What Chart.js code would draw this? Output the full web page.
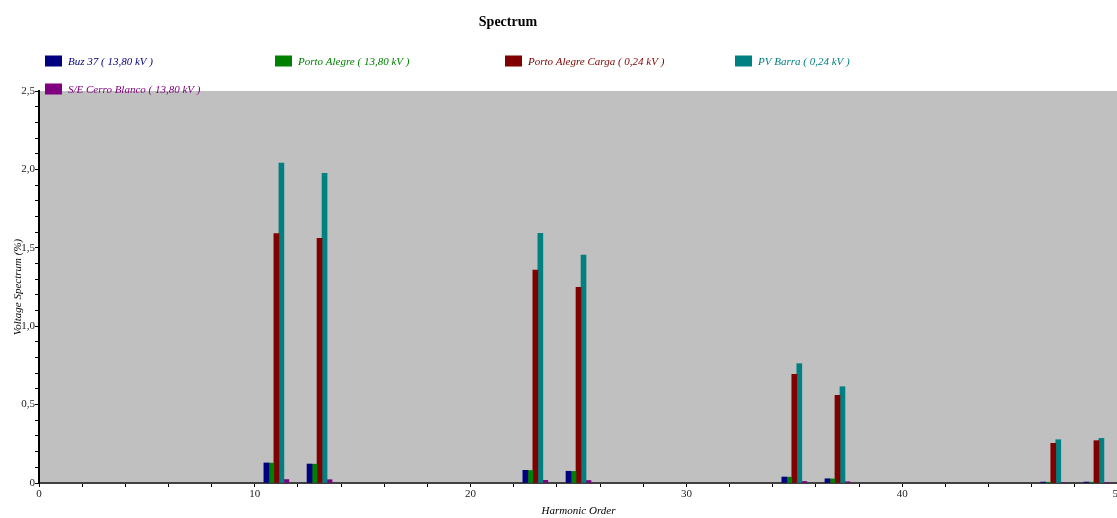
<!DOCTYPE html>
<html>
<head>
<meta charset="utf-8">
<script src="https://cdn.jsdelivr.net/npm/chart.js@4.4.1/dist/chart.umd.min.js"></script>
<style>
  html, body { margin: 0; padding: 0; background: #fff; overflow: hidden; }
  #wrap { position: relative; width: 1127px; height: 518px; }
</style>
</head>
<body>
<div id="wrap"><canvas id="chart"></canvas></div>
<script>
// --- DATA ---
const harmonics = [11, 13, 23, 25, 35, 37, 47, 49];

const bus37      = [0.128, 0.121, 0.081, 0.075, 0.038, 0.027, 0.006, 0.006];
const portoAleg  = [0.127, 0.120, 0.080, 0.074, 0.037, 0.026, 0.005, 0.005];
const portoCarga = [1.590, 1.560, 1.358, 1.248, 0.693, 0.559, 0.253, 0.270];
const pvBarra    = [2.040, 1.975, 1.592, 1.454, 0.761, 0.614, 0.276, 0.285];
const cerroBlanco = [0.022, 0.021, 0.017, 0.016, 0.010, 0.008, 0.003, 0.003];

const seriesNames = [
  'Buz 37 ( 13,80 kV )',
  'Porto Alegre ( 13,80 kV )',
  'Porto Alegre Carga ( 0,24 kV )',
  'PV Barra ( 0,24 kV )',
  'S/E Cerro Blanco ( 13,80 kV )'
];
const seriesColors = ['#000080', '#008000', '#800000', '#008080', '#800080'];
const seriesValues = [bus37, portoAleg, portoCarga, pvBarra, cerroBlanco];

const chartTitle = 'Spectrum';
const xTitle = 'Harmonic Order';
const yTitle = 'Voltage Spectrum (%)';

// --- CHART ---
const serif = "'Liberation Serif', 'DejaVu Serif', serif";

const datasets = seriesValues.map((vals, i) => ({
  label: seriesNames[i],
  data: harmonics.map((h, j) => ({ x: h, y: vals[j] })),
  backgroundColor: seriesColors[i],
  borderWidth: 0,
  barThickness: 5
}));

// grey plot area
const plotBg = {
  id: 'plotBg',
  beforeDraw(chart) {
    const a = chart.chartArea, c = chart.ctx;
    c.save();
    c.fillStyle = '#c0c0c0';
    c.fillRect(a.left, a.top, a.right - a.left, a.bottom - a.top);
    c.restore();
  }
};

// title + fixed-column legend
const header = {
  id: 'header',
  afterDraw(chart) {
    const c = chart.ctx;
    c.save();
    c.textBaseline = 'middle';
    c.textAlign = 'center';
    c.fillStyle = '#000';
    c.font = 'bold 14px ' + serif;
    c.fillText(chartTitle, 508, 22);

    c.textAlign = 'left';
    c.font = 'italic 11px ' + serif;
    const cols = [45, 275, 505, 735];
    seriesNames.forEach((name, i) => {
      const x = cols[i % 4];
      const y = i < 4 ? 61 : 89;
      c.fillStyle = seriesColors[i];
      c.fillRect(x, y - 5.5, 17, 11);
      c.fillText(name, x + 23, y + 1);
    });
    c.restore();
  }
};

const chart = new Chart(document.getElementById('chart'), {
  type: 'bar',
  data: { datasets },
  options: {
    responsive: true,
    maintainAspectRatio: false,
    animation: false,
    layout: { padding: { top: 91, right: 9, left: 0, bottom: 0 } },
    plugins: {
      legend: { display: false },
      title: { display: false },
      tooltip: { enabled: false }
    },
    scales: {
      x: {
        type: 'linear',
        min: 0, max: 50,
        offset: false,
        grid: { offset: false, drawOnChartArea: false, color: '#000', tickLength: 4 },
        border: { color: '#404040', width: 2 },
        ticks: {
          stepSize: 2, autoSkip: false, maxRotation: 0, padding: 1,
          color: '#222', font: { family: serif, size: 11 },
          callback: v => (v % 10 === 0 ? String(v) : '')
        },
        title: { display: true, text: xTitle, color: '#000', padding: { top: -2, bottom: 0 },
                 font: { family: serif, size: 11, style: 'italic' } },
        afterFit(s) { s.height = 35; s.paddingLeft = 0; s.paddingRight = 0; }
      },
      y: {
        min: 0, max: 2.5,
        grid: { drawOnChartArea: false, color: '#000', tickLength: 4 },
        border: { color: '#000', width: 2 },
        ticks: {
          stepSize: 0.1, autoSkip: false, padding: 0,
          color: '#222', font: { family: serif, size: 11 },
          callback: v => {
            const t = Math.round(v * 10);
            if (t % 5 !== 0) return '';
            return t === 0 ? '0' : (t / 10).toFixed(1).replace('.', ',');
          }
        },
        title: { display: true, text: yTitle, color: '#000', padding: { top: 12, bottom: 0 },
                 font: { family: serif, size: 11, style: 'italic' } },
        afterFit(s) { s.width = 39; }
      }
    }
  },
  plugins: [plotBg, header]
});
</script>
</body>
</html>
